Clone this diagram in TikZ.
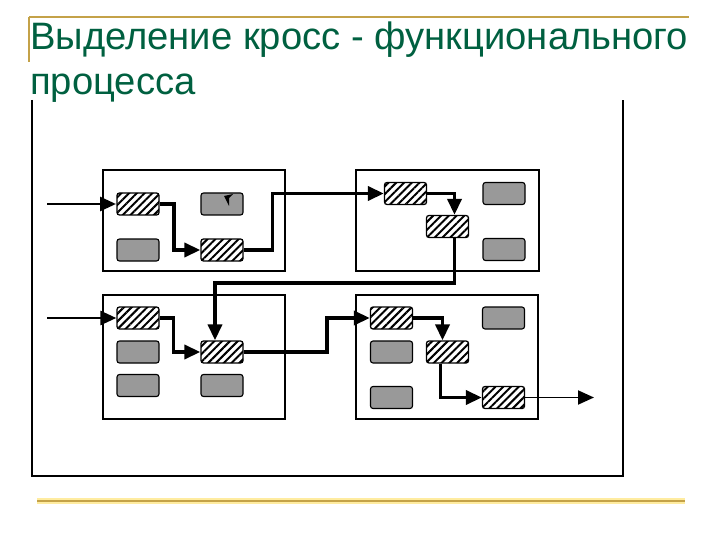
\documentclass[tikz,border=0pt]{standalone}
\usepackage{fontspec}
\setmainfont{Liberation Sans}
\usetikzlibrary{arrows.meta,patterns.meta,calc}
\definecolor{titlegreen}{RGB}{0,96,64}
\definecolor{goldline}{RGB}{196,162,72}
\definecolor{goldglow}{RGB}{255,236,160}
\definecolor{boxgray}{RGB}{153,153,153}
\tikzset{
  hatch/.style={draw=black, line width=1.3pt, rounded corners=2.5pt,
    minimum width=42pt, minimum height=22pt, inner sep=0pt,
    pattern={Lines[angle=45,distance=5.5pt,line width=2pt]}, pattern color=black},
  graybox/.style={draw=black, line width=1.1pt, rounded corners=2.5pt, fill=boxgray,
    minimum width=42pt, minimum height=22pt, inner sep=0pt},
  panel/.style={draw=black, line width=1.2pt, inner sep=0pt},
  flow/.style={line width=3.6pt, -{Triangle[length=16pt,width=14pt]}},
  inflow/.style={line width=2.8pt, -{Triangle[length=16pt,width=14pt]}},
  outflow/.style={line width=1.9pt, -{Triangle[length=16pt,width=14pt]}},
}
\begin{document}
\begin{tikzpicture}[x=1pt,y=-1pt]
\useasboundingbox (0,0) rectangle (720,540);
% title decoration
\draw[goldline, line width=1.6pt] (29,17) -- (689,17);
\draw[goldline, line width=1.6pt] (29,17) -- (29,62);
\node[anchor=base west, inner sep=0pt, text=titlegreen, font=\fontsize{38.2}{42}\selectfont] (t1) at (30,50) {Выделение кросс - функционального};
\node[anchor=base west, inner sep=0pt, text=titlegreen, font=\fontsize{38.2}{42}\selectfont] (t2) at (30,95) {процесса};
% frame
\draw[black, line width=1.2pt] (32,100) -- (32,476) -- (623,476) -- (623,100);
% bottom gold line
\draw[goldglow, line width=6pt] (37,501) -- (685,501);
\draw[goldline, line width=2.8pt] (37,501) -- (685,501);
% panels
\node[panel, minimum width=182pt, minimum height=101pt] (A) at (194,220.5) {};
\node[panel, minimum width=183pt, minimum height=101pt] (B) at (447.5,220.5) {};
\node[panel, minimum width=182pt, minimum height=124pt] (C) at (194,357) {};
\node[panel, minimum width=182pt, minimum height=124pt] (D) at (447,357) {};
% panel A
\node[hatch] (a1) at (138,204) {};
\node[graybox] (a2) at (222,204) {};
\node[graybox] (a3) at (138,250) {};
\node[hatch] (a4) at (222,250) {};
\fill[black] (224,196) -- (233,194) -- (229,198) -- (229,206) -- cycle;
% panel B
\node[hatch] (b1) at (405.5,193.5) {};
\node[graybox] (b2) at (504,193.5) {};
\node[hatch] (b3) at (447.5,226.5) {};
\node[graybox] (b4) at (504,249.5) {};
% panel C
\node[hatch] (c1) at (138,318) {};
\node[graybox] (c2) at (138,352) {};
\node[graybox] (c3) at (138,385.5) {};
\node[hatch] (c4) at (222,352) {};
\node[graybox] (c5) at (222,385.5) {};
% panel D
\node[hatch] (d1) at (391.5,318) {};
\node[graybox] (d2) at (503.5,318) {};
\node[graybox] (d3) at (391.5,352) {};
\node[hatch] (d4) at (447.5,352) {};
\node[graybox] (d5) at (391.5,397.5) {};
\node[hatch] (d6) at (503.5,397.5) {};
% connectors
\coordinate (inA) at (47,204);
\coordinate (inC) at (47,318);
\coordinate (out) at (594,397.5);
\coordinate (k1) at (215,283);
\coordinate (k2) at (327,352);
\draw[inflow] (inA) -- (a1);
\draw[flow] (a1.east) -- ++(14,0) |- (a4);
\draw[flow] (a4.east) -- ++(29,0) |- (b1);
\draw[flow] (b1.east) -| ([xshift=7pt]b3.north);
\draw[flow] ([xshift=7pt]b3.south) |- (k1) -- (k1 |- c4.north);
\draw[inflow] (inC) -- (c1);
\draw[flow] (c1.east) -- ++(14,0) |- (c4);
\draw[flow] (c4.east) -- (k2) |- (d1);
\draw[flow] (d1.east) -| ([xshift=-5pt]d4.north);
\draw[flow] ([xshift=-7pt]d4.south) |- (d6);
\draw[outflow] (d6.east) -- (out);
\end{tikzpicture}
\end{document}
